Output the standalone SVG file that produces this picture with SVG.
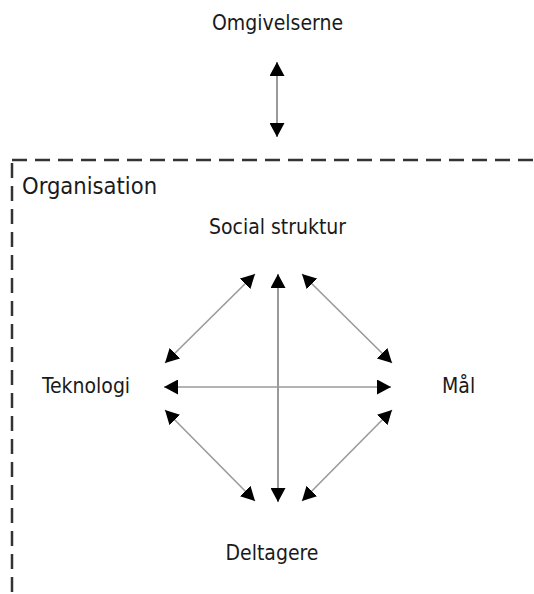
<svg xmlns="http://www.w3.org/2000/svg" width="534" height="594" viewBox="0 0 534 594">
  <style>
    .label { font-family: "DejaVu Sans Condensed", "DejaVu Sans", sans-serif; font-size: 21px; fill: #1a1a1a; }
    .title { font-size: 23.5px; }
    .link { stroke: #9a9a9a; stroke-width: 1.6; fill: none; marker-start: url(#head); marker-end: url(#head); }
    .boundary { stroke: #333; stroke-width: 2.5; stroke-dasharray: 15 8; fill: none; }
  </style>
  <defs>
    <marker id="head" markerUnits="userSpaceOnUse" markerWidth="15" markerHeight="15" refX="14" refY="7.5" orient="auto-start-reverse">
      <path d="M0,0 L14,7.5 L0,15 Z" fill="#000"/>
    </marker>
  </defs>
  <rect width="534" height="594" fill="#fff"/>

  <!-- organisation boundary (open dashed frame) -->
  <g id="organisation">
    <line class="boundary" x1="12" y1="160" x2="534" y2="160"/>
    <line class="boundary" x1="12" y1="163" x2="12" y2="594"/>
    <text class="label title" x="22" y="194">Organisation</text>
  </g>

  <g id="omgivelserne"><text class="label" x="277.5" y="30" text-anchor="middle">Omgivelserne</text></g>
  <g id="social-struktur"><text class="label" x="277.5" y="234" text-anchor="middle">Social struktur</text></g>
  <g id="teknologi"><text class="label" x="42" y="393">Teknologi</text></g>
  <g id="maal"><text class="label" x="442" y="393">Mål</text></g>
  <g id="deltagere"><text class="label" x="272" y="560" text-anchor="middle">Deltagere</text></g>

  <g id="connectors">
    <line class="link" x1="277" y1="62" x2="277" y2="137" style="stroke-width:2"/>
    <line class="link" x1="278" y1="274" x2="278" y2="502" style="stroke-width:2"/>
    <line class="link" x1="164" y1="387" x2="391" y2="387"/>
    <line class="link" x1="165" y1="363" x2="255" y2="274"/>
    <line class="link" x1="302" y1="274" x2="392" y2="363"/>
    <line class="link" x1="165" y1="410" x2="255" y2="501"/>
    <line class="link" x1="392" y1="410" x2="302" y2="501"/>
  </g>
</svg>
